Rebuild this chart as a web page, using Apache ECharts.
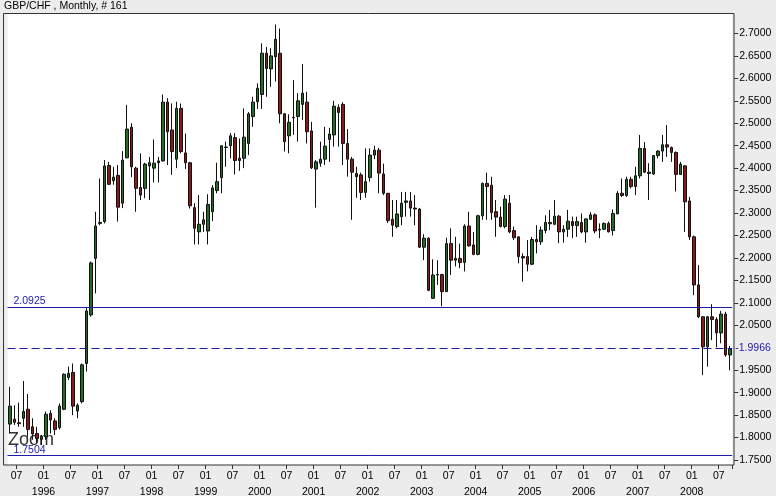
<!DOCTYPE html>
<html><head><meta charset="utf-8">
<script src="https://cdn.jsdelivr.net/npm/echarts@6/dist/echarts.min.js"></script>
<style>html,body{margin:0;padding:0;background:#ECECEC;}#c{width:776px;height:496px;}</style>
</head><body><div id="c"></div>
<script>
// GBP/CHF monthly candles, May 1995 .. Sep 2008 (161 bars)
const startYear = 1995;
const startMonth = 5;
const opens = [1.830,1.841,1.833,1.843,1.863,1.824,1.809,1.796,1.802,1.854,1.837,1.822,1.863,1.934,1.945,1.859,1.880,1.965,2.073,2.199,2.277,2.281,2.406,2.372,2.384,2.322,2.423,2.491,2.400,2.357,2.355,2.405,2.400,2.412,2.416,2.547,2.485,2.420,2.533,2.434,2.412,2.312,2.258,2.275,2.260,2.303,2.350,2.379,2.446,2.450,2.468,2.422,2.422,2.455,2.515,2.548,2.564,2.656,2.621,2.648,2.656,2.521,2.472,2.513,2.515,2.542,2.547,2.483,2.398,2.411,2.420,2.464,2.474,2.535,2.542,2.455,2.420,2.388,2.385,2.346,2.379,2.429,2.440,2.387,2.344,2.286,2.270,2.292,2.324,2.327,2.311,2.309,2.224,2.244,2.110,2.163,2.163,2.125,2.232,2.195,2.199,2.190,2.271,2.229,2.208,2.294,2.366,2.362,2.303,2.291,2.270,2.322,2.261,2.247,2.203,2.203,2.186,2.241,2.236,2.261,2.279,2.275,2.293,2.258,2.264,2.281,2.272,2.279,2.258,2.286,2.296,2.262,2.264,2.277,2.261,2.298,2.344,2.339,2.375,2.359,2.383,2.444,2.391,2.387,2.428,2.438,2.452,2.446,2.435,2.386,2.405,2.327,2.247,2.140,2.069,2.002,2.069,2.063,2.033,2.075,1.984];
const closes = [1.870,1.834,1.831,1.858,1.818,1.808,1.798,1.802,1.852,1.839,1.818,1.870,1.941,1.943,1.870,1.872,1.962,2.082,2.189,2.271,2.279,2.405,2.364,2.380,2.313,2.418,2.487,2.403,2.355,2.340,2.409,2.412,2.411,2.416,2.547,2.481,2.437,2.533,2.437,2.412,2.316,2.266,2.275,2.285,2.319,2.356,2.370,2.450,2.447,2.472,2.417,2.417,2.469,2.521,2.547,2.578,2.656,2.622,2.650,2.687,2.521,2.459,2.502,2.512,2.550,2.567,2.481,2.401,2.414,2.420,2.449,2.476,2.538,2.524,2.455,2.420,2.391,2.381,2.346,2.370,2.429,2.440,2.389,2.344,2.283,2.273,2.298,2.322,2.327,2.311,2.309,2.224,2.244,2.128,2.162,2.162,2.125,2.232,2.195,2.199,2.190,2.271,2.227,2.208,2.294,2.366,2.359,2.301,2.291,2.270,2.331,2.258,2.245,2.203,2.200,2.186,2.241,2.236,2.262,2.279,2.276,2.293,2.258,2.264,2.282,2.272,2.281,2.258,2.287,2.296,2.260,2.264,2.277,2.258,2.299,2.344,2.339,2.375,2.359,2.383,2.444,2.391,2.388,2.428,2.438,2.452,2.447,2.435,2.386,2.409,2.325,2.247,2.140,2.069,2.002,2.069,2.063,2.033,2.075,1.984,1.9966];
const lows = [1.809,1.828,1.824,1.824,1.802,1.795,1.787,1.783,1.795,1.809,1.806,1.818,1.861,1.928,1.850,1.843,1.876,1.947,2.069,2.121,2.273,2.277,2.363,2.363,2.281,2.311,2.422,2.380,2.303,2.329,2.333,2.329,2.368,2.368,2.415,2.407,2.385,2.400,2.433,2.398,2.310,2.230,2.230,2.258,2.230,2.282,2.344,2.344,2.403,2.422,2.386,2.394,2.400,2.429,2.492,2.532,2.532,2.559,2.581,2.593,2.500,2.437,2.433,2.474,2.459,2.507,2.455,2.398,2.312,2.403,2.407,2.414,2.448,2.448,2.407,2.381,2.285,2.334,2.329,2.334,2.370,2.420,2.344,2.340,2.278,2.247,2.266,2.273,2.292,2.292,2.273,2.222,2.195,2.126,2.110,2.140,2.0925,2.125,2.162,2.181,2.177,2.170,2.225,2.206,2.206,2.285,2.285,2.285,2.247,2.268,2.266,2.255,2.240,2.188,2.147,2.170,2.184,2.210,2.229,2.255,2.262,2.273,2.233,2.234,2.247,2.244,2.247,2.255,2.234,2.285,2.255,2.244,2.262,2.257,2.250,2.298,2.336,2.336,2.355,2.340,2.377,2.389,2.329,2.385,2.422,2.414,2.425,2.414,2.348,2.385,2.258,2.240,2.117,2.066,1.939,1.958,2.017,2.001,2.010,1.980,1.950];
const highs = [1.913,1.872,1.878,1.926,1.897,1.843,1.824,1.806,1.858,1.861,1.843,1.876,1.943,1.958,1.965,1.876,1.965,2.091,2.192,2.303,2.377,2.418,2.414,2.403,2.407,2.438,2.541,2.500,2.403,2.433,2.412,2.425,2.464,2.425,2.564,2.556,2.544,2.548,2.544,2.477,2.414,2.322,2.340,2.303,2.342,2.362,2.412,2.450,2.459,2.478,2.478,2.466,2.533,2.525,2.559,2.589,2.678,2.670,2.667,2.720,2.711,2.523,2.520,2.596,2.567,2.632,2.570,2.503,2.418,2.459,2.492,2.490,2.550,2.542,2.547,2.487,2.425,2.403,2.390,2.444,2.444,2.450,2.445,2.410,2.344,2.329,2.329,2.347,2.347,2.347,2.340,2.311,2.253,2.246,2.197,2.195,2.165,2.245,2.266,2.247,2.232,2.275,2.303,2.258,2.296,2.368,2.390,2.381,2.329,2.314,2.340,2.340,2.270,2.247,2.210,2.240,2.247,2.273,2.270,2.295,2.307,2.329,2.296,2.273,2.307,2.292,2.292,2.299,2.288,2.302,2.299,2.277,2.279,2.281,2.308,2.349,2.377,2.381,2.381,2.403,2.474,2.458,2.411,2.429,2.440,2.474,2.496,2.448,2.437,2.414,2.407,2.336,2.250,2.184,2.070,2.071,2.097,2.068,2.082,2.080,2.004];
// 2.0000 is not labelled in the source: the last-close label 1.9966 takes its place
const yTickValues = [1.75,1.80,1.85,1.90,1.95,2.05,2.10,2.15,2.20,2.25,2.30,2.35,2.40,2.45,2.50,2.55,2.60,2.65,2.70];
const levelHigh = 2.0925;
const levelLast = 1.9966;
const levelZoomLabel = '1.7504';
const levelZoomDrawn = 1.7612;

const categories = [];
for (let i = 0; i < opens.length; i++) {
  const m = startMonth - 1 + i;
  const y = startYear + Math.floor(m / 12);
  const mm = (m % 12) + 1;
  categories.push(y + '-' + (mm < 10 ? '0' + mm : '' + mm));
}
const candles = opens.map((o, i) => [o, closes[i], lows[i], highs[i]]);
const isTickMonth = (idx) => { const mm = categories[idx].slice(5); return mm === '01' || mm === '07'; };

const chart = echarts.init(document.getElementById('c'), null, {renderer: 'canvas'});
const FONT = 'Liberation Sans';
const NAVY = '#1c1ca6';
const levelLine = (value, dashed, label) => ({
  type: 'line', silent: true, symbol: 'none', data: [], z: 3,
  markLine: {
    symbol: 'none', silent: true, animation: false,
    lineStyle: {color: NAVY, width: 1, type: dashed ? [8, 4] : [2000, 1], opacity: 1},
    label: label,
    data: [{yAxis: value}]
  }
});
chart.setOption({
  animation: false,
  backgroundColor: '#ECECEC',
  textStyle: {fontFamily: FONT},
  grid: {left: 7.5, right: 43.75, top: 13.5, bottom: 31, show: true, backgroundColor: '#FFFFFF', borderWidth: 0, containLabel: false, outerBoundsMode: 'none'},
  graphic: [
    {type: 'rect', z: 50, silent: true, shape: {x: 3.5, y: 13.5, width: 730.5, height: 451.5}, style: {fill: 'none', stroke: '#333333', lineWidth: 1}},
    {type: 'text', z: 1, left: 8, top: 431, silent: true, style: {text: 'Zoom', font: '18px "Liberation Sans"', fill: '#333333'}},
    {type: 'text', left: 4, top: 1, silent: true, style: {text: 'GBP/CHF , Monthly, # 161', font: '10.5px "Liberation Sans"', fill: '#000000'}}
  ],
  xAxis: {
    type: 'category', data: categories, boundaryGap: true,
    axisLine: {show: false},
    axisTick: {show: true, length: 4, alignWithLabel: false, interval: (i) => isTickMonth(i), lineStyle: {color: '#333'}},
    axisLabel: {
      interval: (i) => isTickMonth(i), margin: 3.5, fontSize: 10.5, color: '#000', lineHeight: 15.5, padding: [0, 4.5, 0, 0],
      formatter: (v) => { const mm = v.slice(5); return mm === '01' ? mm + '\n' + v.slice(0, 4) : mm; }
    },
    splitLine: {show: false}
  },
  yAxis: {
    type: 'value', position: 'right', offset: 2, min: 1.7389, max: 2.7444, scale: true,
    axisLine: {show: false},
    axisTick: {show: true, length: 4, customValues: yTickValues, lineStyle: {color: '#333'}},
    axisLabel: {customValues: yTickValues, margin: 5, fontSize: 10.5, color: '#000', formatter: (v) => v.toFixed(4)},
    splitLine: {show: false}
  },
  series: [
    {
      type: 'candlestick', data: candles, barWidth: 3, z: 2,
      itemStyle: {color: '#246b24', color0: '#8a1a1a', borderColor: '#111', borderColor0: '#111', borderWidth: 1}
    },
    levelLine(levelHigh, false, {show: true, position: 'insideStartTop', distance: [6, 1], formatter: levelHigh.toFixed(4), color: NAVY, fontSize: 10.5}),
    levelLine(levelLast, true, {show: true, position: 'end', distance: 3, formatter: '-' + levelLast.toFixed(4), color: NAVY, fontSize: 10.5}),
    levelLine(levelZoomDrawn, false, {show: true, position: 'insideStartTop', distance: [6, 0], formatter: levelZoomLabel, color: NAVY, fontSize: 10.5})
  ]
});
</script></body></html>
